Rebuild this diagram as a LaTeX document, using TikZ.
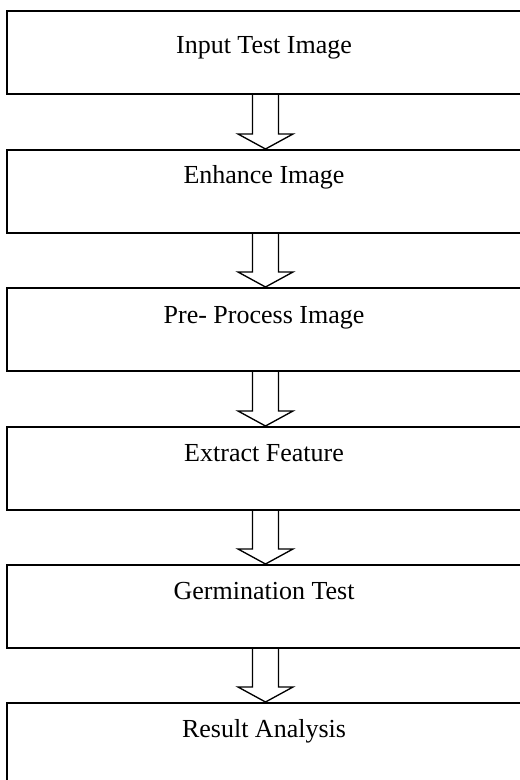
\documentclass[tikz,border=0pt]{standalone}
\usepackage{fontspec}
\setmainfont{Liberation Serif}
\usetikzlibrary{calc}
\begin{document}
\begin{tikzpicture}[x=0.75pt,y=-0.75pt,
  stagebox/.style={draw=black,line width=1.3pt,rectangle,minimum width=517*0.75pt,minimum height=83*0.75pt,inner sep=0pt,anchor=north},
  stagetext/.style={font=\fontsize{19.5}{23}\selectfont,inner sep=0pt,anchor=base},
  flowarrow/.style={draw=black,line width=1pt,line join=miter}]
\useasboundingbox (0,0) rectangle (520,780);
\clip (0,0) rectangle (520,780);
\fill[white] (0,0) rectangle (520,780);
\node[stagebox] (b1) at (265.5,10) {};
\node[stagebox] (b2) at (265.5,149) {};
\node[stagebox] (b3) at (265.5,287) {};
\node[stagebox] (b4) at (265.5,426) {};
\node[stagebox] (b5) at (265.5,564) {};
\node[stagebox,minimum height=100*0.75pt] (b6) at (265.5,702) {};
\node[stagetext] (t1) at (264,54) {Input Test Image};
\node[stagetext] (t2) at (264,184) {Enhance Image};
\node[stagetext] (t3) at (264,323) {Pre- Process Image};
\node[stagetext] (t4) at (264,461) {Extract Feature};
\node[stagetext] (t5) at (264,599) {Germination Test};
\node[stagetext] (t6) at (264,737) {Result Analysis};
\foreach \a/\b in {b1/b2,b2/b3,b3/b4,b4/b5,b5/b6}{
  \draw[flowarrow] ($(\a.south)+(-13,0)$) -- ($(\b.north)+(-13,-15)$) -- ($(\b.north)+(-27.5,-15)$)
    -- (\b.north) -- ($(\b.north)+(27.5,-15)$) -- ($(\b.north)+(13,-15)$) -- ($(\a.south)+(13,0)$);
}
\end{tikzpicture}
\end{document}
